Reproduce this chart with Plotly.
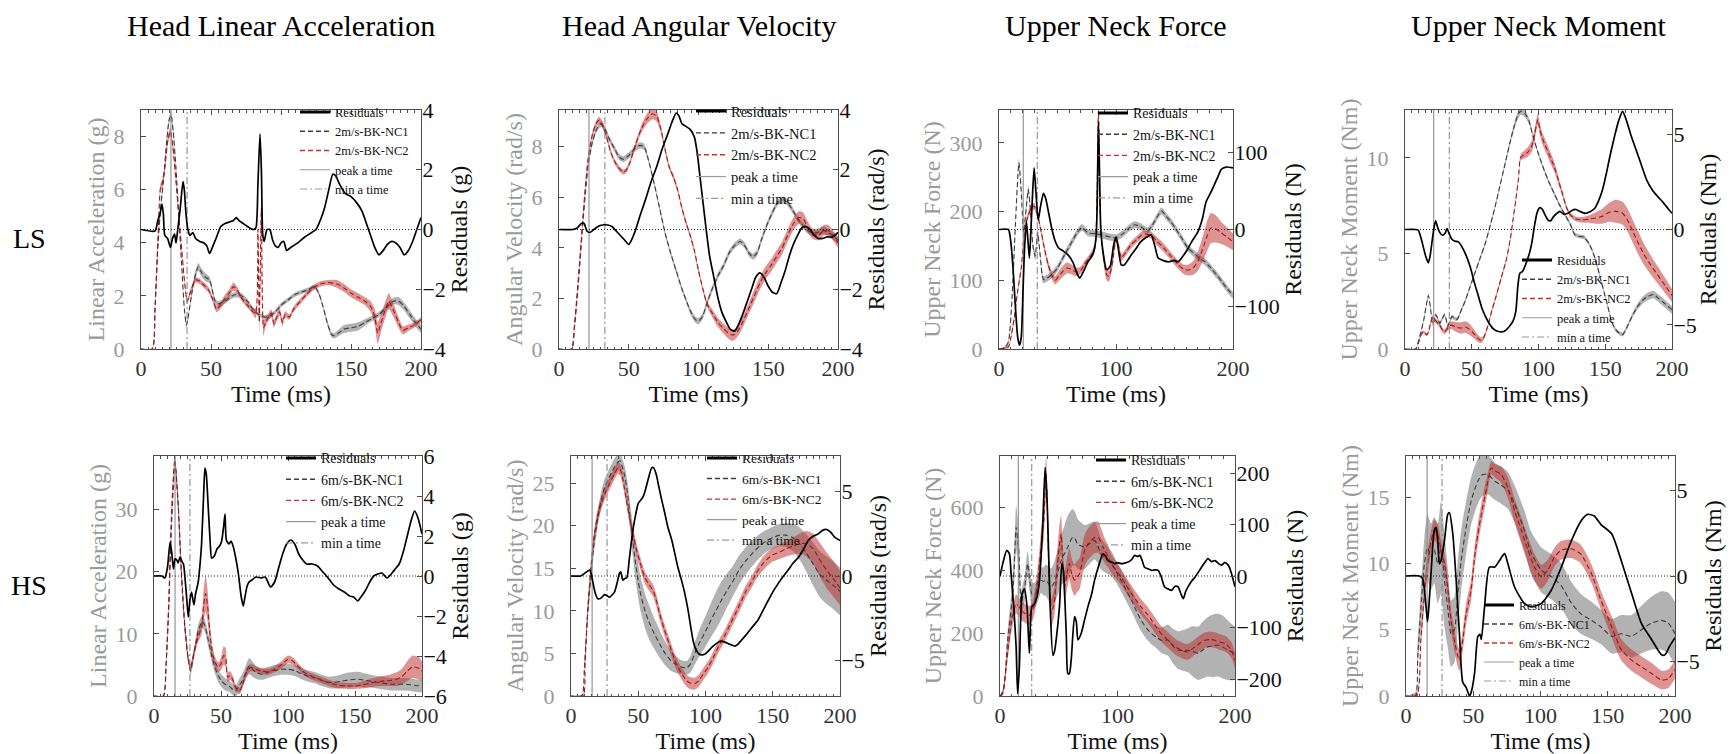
import plotly.graph_objects as go

W, H = 1736, 754
FONT = "Liberation Serif"

# ---------------- text ----------------
col_titles = ["Head Linear Acceleration", "Head Angular Velocity", "Upper Neck Force", "Upper Neck Moment"]
row_labels = ["LS", "HS"]
left_titles = ["Linear Acceleration (g)", "Angular Velocity (rad/s)", "Upper Neck Force (N)", "Upper Neck Moment (Nm)"]
right_titles = ["Residuals (g)", "Residuals (rad/s)", "Residuals (N)", "Residuals (Nm)"]
legend_ls = ["Residuals", "2m/s-BK-NC1", "2m/s-BK-NC2", "peak a time", "min a time"]
legend_hs = ["Residuals", "6m/s-BK-NC1", "6m/s-BK-NC2", "peak a time", "min a time"]
x_title = "Time (ms)"

# ---------------- per-panel scalars ----------------
peak_time = [21.4, 21.5, 20.7, 21.5, 15.7, 15.7, 15.6, 15.7]
min_time = [32.9, 32.9, 32.7, 33.2, 26.8, 26.8, 27.0, 26.8]
left_max = [9.0, 9.45, 348, 12.5, 38.6, 28.2, 765, 18.1]
right_lim = [4, 4, 155, 6.27, 6, 7.1, 233, 7]
left_ticks = [[0, 2, 4, 6, 8], [0, 2, 4, 6, 8], [0, 100, 200, 300], [0, 5, 10],
              [0, 10, 20, 30], [0, 5, 10, 15, 20, 25], [0, 200, 400, 600], [0, 5, 10, 15]]
right_ticks = [[-4, -2, 0, 2, 4], [-4, -2, 0, 2, 4], [-100, 0, 100], [-5, 0, 5],
               [-6, -4, -2, 0, 2, 4, 6], [-5, 0, 5], [-200, -100, 0, 100, 200], [-5, 0, 5]]
time_ticks = [[0, 50, 100, 150, 200], [0, 50, 100, 150, 200], [0, 100, 200], [0, 50, 100, 150, 200],
              [0, 50, 100, 150, 200], [0, 50, 100, 150, 200], [0, 100, 200], [0, 50, 100, 150, 200]]

# ---------------- series: (time ms, mean, sd) and residuals (time ms, value) ----------------
# Panel 1: LS head linear acceleration
p1_nc1 = [(0,0,0),(8,0,0.03),(10,1.5,0.1),(12,3.8,0.15),(14,5.3,0.15),(16,6.3,0.15),(18,7.6,0.15),(20,8.6,0.15),(21.5,8.8,0.15),(23,8.2,0.15),(25,6.8,0.15),(27,5.0,0.12),(29,3.2,0.1),(31,1.5,0.1),(32.5,0.9,0.1),(34,1.3,0.1),(36,2.0,0.12),(38,2.6,0.15),(40,3.0,0.15),(41,3.1,0.15),(43,2.9,0.15),(46,2.7,0.15),(49,2.6,0.12),(51,2.2,0.12),(53,1.8,0.1),(55,1.7,0.1),(60,1.8,0.1),(65,2.0,0.1),(68,2.05,0.1),(72,2.0,0.1),(76,1.8,0.08),(80,1.5,0.08),(84,1.3,0.08),(88,1.2,0.08),(92,1.25,0.08),(96,1.4,0.08),(100,1.65,0.08),(105,1.85,0.08),(110,2.05,0.08),(115,2.15,0.08),(120,2.25,0.08),(124,2.35,0.08),(127,2.1,0.08),(130,1.6,0.08),(133,1.0,0.1),(136,0.55,0.1),(138,0.5,0.1),(141,0.6,0.12),(145,0.75,0.15),(150,0.8,0.15),(155,0.85,0.15),(160,1.0,0.12),(165,1.15,0.1),(170,1.3,0.1),(175,1.55,0.1),(180,1.8,0.12),(184,1.8,0.15),(188,1.6,0.15),(192,1.3,0.15),(196,1.0,0.15),(200,0.75,0.15)]
p1_nc2 = [(0,0,0),(8,0,0.03),(10,1.5,0.1),(12,4.0,0.15),(14,6.1,0.15),(15,6.2,0.15),(17,6.8,0.15),(19,7.8,0.15),(21,8.2,0.15),(23,7.5,0.15),(25,6.3,0.12),(27,5.0,0.1),(29,3.8,0.1),(31,2.6,0.1),(33,1.8,0.1),(35,2.1,0.1),(37,2.4,0.1),(39,2.6,0.1),(42,2.55,0.1),(45,2.4,0.1),(48,2.25,0.1),(51,1.9,0.1),(54,1.5,0.12),(57,1.65,0.12),(60,1.9,0.15),(63,2.1,0.15),(66,2.35,0.15),(69,2.2,0.12),(72,1.9,0.1),(76,1.65,0.1),(80,1.4,0.1),(82,1.35,0.2),(83.5,4.5,0.6),(84.5,1.0,0.4),(86,5.3,0.6),(87.5,0.8,0.3),(89,1.0,0.15),(91,1.2,0.15),(93,1.35,0.15),(95,0.95,0.15),(97,1.2,0.15),(99,1.4,0.15),(101,1.0,0.15),(103,1.3,0.12),(106,1.2,0.1),(109,1.5,0.1),(113,1.75,0.1),(118,2.05,0.1),(123,2.3,0.1),(128,2.45,0.1),(134,2.5,0.1),(140,2.45,0.15),(145,2.3,0.15),(150,2.1,0.15),(155,1.95,0.15),(160,1.8,0.15),(164,1.6,0.2),(167,1.2,0.3),(169,0.6,0.4),(171,0.9,0.35),(174,1.4,0.3),(177,1.8,0.3),(180,1.5,0.25),(184,1.0,0.2),(187,0.7,0.15),(191,0.8,0.12),(195,0.9,0.1),(200,1.1,0.1)]
p1_res = [(0,0),(10,-0.05),(12,0.3),(13.5,0.5),(15,0.85),(16,0.5),(17,-0.2),(19,-0.3),(21,-0.6),(22.5,-0.3),(24,-0.15),(25,-0.45),(26,-0.1),(28,0.7),(30,1.6),(31,1.3),(32,0.6),(33.5,0.0),(35,-0.2),(37,-0.1),(39,-0.3),(42,-0.4),(45,-0.45),(47,-0.55),(49,-0.8),(51,-0.6),(54,-0.25),(57,0.1),(60,0.2),(63,0.25),(66,0.3),(68,0.4),(70,0.3),(73,0.2),(76,0.1),(80,0.0),(82,0.05),(83.5,1.5),(85,3.2),(86,2.0),(87,-0.2),(88,-0.4),(90,0.0),(92,0.0),(94,-0.35),(96,-0.55),(98,-0.6),(100,-0.45),(102,-0.4),(104,-0.7),(107,-0.6),(112,-0.45),(117,-0.25),(122,-0.1),(125,0.0),(128,0.3),(131,0.7),(134,1.3),(137,1.85),(139,1.8),(142,1.5),(146,1.2),(150,1.1),(154,0.9),(158,0.6),(161,0.2),(164,-0.2),(167,-0.6),(170,-0.85),(173,-0.7),(176,-0.5),(179,-0.4),(182,-0.45),(185,-0.6),(188,-0.85),(191,-0.7),(194,-0.4),(197,0.0),(200,0.4)]

# Panel 2: LS head angular velocity
p2_nc1 = [(0,0,0),(9,0,0.03),(11,0.8,0.08),(13,2.0,0.1),(15,3.4,0.1),(17,4.9,0.1),(19,6.2,0.1),(21,7.3,0.1),(24,8.2,0.12),(27,8.7,0.12),(30,8.9,0.12),(33,8.7,0.12),(36,8.3,0.12),(40,7.9,0.12),(43,7.6,0.12),(46,7.5,0.12),(50,7.65,0.12),(54,7.9,0.12),(58,8.05,0.12),(61,8.0,0.12),(64,7.5,0.1),(68,6.6,0.1),(72,5.6,0.1),(76,4.6,0.1),(80,3.8,0.1),(84,3.1,0.1),(88,2.4,0.1),(92,1.8,0.1),(95,1.4,0.12),(98,1.15,0.12),(100,1.1,0.12),(103,1.3,0.12),(106,1.8,0.12),(110,2.4,0.12),(114,2.9,0.12),(118,3.3,0.12),(122,3.8,0.12),(126,4.1,0.12),(130,4.25,0.12),(133,4.1,0.12),(136,3.8,0.12),(139,3.65,0.12),(142,3.8,0.12),(145,4.3,0.12),(149,4.9,0.12),(153,5.4,0.12),(157,5.8,0.12),(161,5.9,0.12),(165,5.7,0.12),(169,5.35,0.12),(173,5.0,0.12),(177,4.75,0.12),(181,4.6,0.12),(185,4.6,0.15),(189,4.7,0.15),(193,4.6,0.15),(197,4.45,0.15),(200,4.3,0.15)]
p2_nc2 = [(0,0,0),(9,0,0.03),(11,0.9,0.08),(13,2.2,0.1),(15,3.6,0.1),(17,5.1,0.1),(19,6.5,0.1),(21,7.6,0.1),(24,8.5,0.12),(27,8.95,0.12),(29,9.05,0.12),(31,8.9,0.12),(34,8.4,0.1),(37,7.8,0.1),(40,7.4,0.1),(43,7.15,0.1),(46,7.0,0.1),(48,7.05,0.1),(51,7.4,0.1),(55,8.1,0.12),(59,8.7,0.15),(63,9.1,0.2),(67,9.3,0.22),(70,9.2,0.2),(73,8.7,0.15),(76,7.9,0.12),(79,7.2,0.1),(82,6.8,0.1),(85,6.3,0.1),(88,5.6,0.1),(91,5.0,0.1),(94,4.5,0.1),(97,3.9,0.1),(100,3.1,0.1),(103,2.4,0.1),(106,1.8,0.12),(110,1.4,0.15),(114,1.05,0.18),(118,0.8,0.2),(122,0.6,0.22),(125,0.55,0.22),(128,0.7,0.22),(132,1.1,0.22),(136,1.6,0.22),(140,2.1,0.25),(144,2.6,0.25),(148,3.0,0.25),(152,3.3,0.25),(156,3.65,0.25),(160,4.0,0.25),(164,4.5,0.25),(168,4.95,0.25),(172,5.2,0.25),(175,5.15,0.25),(178,4.85,0.22),(182,4.55,0.2),(186,4.5,0.2),(190,4.7,0.2),(193,4.7,0.2),(197,4.45,0.2),(200,4.2,0.2)]
p2_res = [(0,0),(10,0),(13,0.05),(16,0.2),(18,0.2),(20,-0.05),(22,-0.1),(25,0.0),(28,0.1),(31,0.15),(35,0.15),(38,0.1),(41,-0.05),(44,-0.2),(47,-0.35),(50,-0.5),(52,-0.35),(55,0.0),(58,0.45),(62,1.0),(66,1.6),(70,2.1),(74,2.7),(78,3.2),(81,3.6),(84,3.9),(86,3.8),(88,3.55),(91,3.45),(94,3.35),(97,3.1),(99,2.6),(101,1.8),(103,1.0),(105.5,0.0),(108,-0.9),(111,-1.6),(114,-2.3),(117,-2.8),(120,-3.1),(123,-3.35),(126,-3.4),(129,-3.15),(132,-2.8),(135,-2.4),(138,-2.0),(141,-1.6),(144,-1.45),(147,-1.6),(150,-1.9),(153,-2.1),(156,-2.15),(159,-1.8),(162,-1.4),(165,-0.9),(168,-0.5),(171,-0.2),(174,0.05),(177,0.1),(180,0.0),(183,-0.2),(186,-0.3),(189,-0.3),(192,-0.25),(196,-0.25),(200,-0.1)]

# Panel 3: LS upper neck force
p3_nc1 = [(0,0,0),(5,2,2),(8,10,3),(11,70,5),(14,180,6),(17,271,6),(19,230,6),(21,170,6),(23,200,6),(25,232,6),(27,200,6),(29,150,6),(31,135,6),(33,170,6),(35,140,6),(38,101,5),(41,103,5),(45,108,5),(50,118,5),(56,137,5),(62,155,5),(67,170,5),(71,177,5),(76,169,5),(82,168,5),(88,166,5),(95,163,5),(100,162,5),(106,168,5),(111,176,5),(116,181,5),(121,178,5),(127,172,5),(131,180,5),(135,192,5),(139,201,5),(143,193,5),(147,185,5),(151,175,5),(156,162,5),(161,148,5),(166,140,5),(171,133,5),(176,127,5),(181,118,5),(186,108,5),(190,99,5),(195,88,5),(200,78,5)]
p3_nc2 = [(0,0,0),(8,3,2),(10,15,3),(13,45,4),(16,85,4),(19,118,5),(22,175,5),(25,195,5),(28,206,5),(30,208,5),(33,195,5),(36,171,5),(39,145,5),(42,123,5),(45,108,6),(48,100,6),(51,106,7),(54,112,8),(58,118,8),(62,116,7),(66,112,6),(70,115,5),(73,123,5),(77,132,5),(80,140,5),(82,147,6),(83.5,200,10),(85,348,10),(86.5,200,10),(88,150,8),(90,125,8),(92,108,8),(94,106,8),(97,125,6),(100,160,5),(102,152,5),(104.5,133,5),(108,140,5),(113,152,5),(118,160,5),(122,166,5),(126,167,5),(130,166,5),(135,157,6),(141,147,6),(147,135,6),(153,123,6),(158,116,7),(162,115,8),(166,118,10),(170,128,14),(174,145,18),(178,165,22),(181,176,22),(185,175,20),(190,169,16),(195,163,14),(200,156,12)]
p3_res = [(0,0),(8,0),(10,-15),(12,-50),(14,-100),(16,-140),(17.5,-150),(19,-140),(20.5,-80),(22,-20),(23.5,10),(25,-20),(26,-37),(27,-10),(28.5,40),(30,80),(31.5,50),(33.5,12),(35.5,30),(38,47),(40,40),(42,25),(45,2),(48,-15),(51,-24),(55,-28),(59,-33),(63,-42),(67,-58),(69,-63),(72,-55),(76,-42),(80,-33),(83,-10),(85,140),(87,0),(89,-30),(92,-52),(95,-48),(98,-20),(100,-10),(102,-25),(104.5,-46),(107,-46),(110,-40),(113,-33),(117,-25),(121,-16),(126,-10),(130,-7),(133,-20),(136,-37),(140,-40),(145,-42),(150,-40),(153,-42),(157,-35),(161,-26),(165,-15),(170,-3),(174,15),(177,36),(181,48),(184,58),(187,68),(190,78),(194,81),(200,80)]

# Panel 4: LS upper neck moment
p4_nc1 = [(0,0,0),(8,0,0.02),(10,0.4,0.05),(12,0.9,0.08),(14,1.5,0.1),(16,2.3,0.1),(17.5,2.8,0.1),(19,2.2,0.1),(20.7,1.3,0.1),(22,1.5,0.1),(23,1.8,0.1),(24.5,1.6,0.1),(26,1.35,0.1),(28,1.6,0.1),(29.5,1.8,0.1),(31,1.5,0.1),(32,1.2,0.1),(34,1.5,0.1),(35,1.7,0.1),(37,1.6,0.1),(39,1.55,0.1),(42,2.0,0.1),(45,2.5,0.1),(48,3.1,0.1),(52,3.9,0.1),(56,4.7,0.1),(60,5.5,0.1),(64,6.5,0.1),(67,7.3,0.1),(71,8.5,0.1),(75,9.7,0.12),(79,10.9,0.15),(82,11.7,0.18),(85,12.3,0.2),(87,12.45,0.2),(90,12.3,0.2),(93,11.9,0.15),(96,11.1,0.12),(100,10.2,0.1),(104,9.4,0.1),(108,8.7,0.1),(112,8.1,0.1),(116,7.5,0.1),(120,7.0,0.1),(124,6.5,0.1),(127,6.0,0.1),(130,5.9,0.1),(134,5.85,0.1),(137,5.6,0.1),(140,5.2,0.1),(143,4.6,0.1),(146,3.8,0.1),(149,3.0,0.1),(152,2.2,0.1),(155,1.4,0.1),(158,1.0,0.1),(161,0.8,0.1),(163,0.75,0.1),(166,1.1,0.1),(170,1.7,0.12),(174,2.2,0.15),(178,2.55,0.18),(182,2.75,0.2),(186,2.85,0.2),(190,2.65,0.2),(195,2.35,0.2),(200,2.05,0.2)]
p4_nc2 = [(0,0,0),(8,0,0.02),(10,0.3,0.05),(12,0.75,0.08),(14,0.9,0.08),(16,0.75,0.08),(17.5,0.85,0.1),(19,1.3,0.1),(20.7,1.65,0.12),(22,1.55,0.12),(24,1.4,0.12),(26,1.25,0.12),(28,1.0,0.12),(29.5,0.9,0.12),(31,1.0,0.15),(33,1.2,0.18),(35,1.25,0.2),(38,1.15,0.25),(42,1.1,0.3),(45,1.15,0.3),(48,1.05,0.3),(51,0.85,0.25),(54,0.6,0.2),(57,0.45,0.15),(59,0.6,0.12),(62,1.2,0.1),(65,2.0,0.1),(68,2.7,0.1),(72,3.7,0.1),(76,4.7,0.1),(79,5.8,0.1),(81,6.8,0.1),(83,7.8,0.1),(85,8.9,0.12),(86.5,10.0,0.15),(89,10.15,0.2),(92,10.3,0.25),(95,10.6,0.3),(97,11.2,0.3),(99.5,12.0,0.3),(101,11.5,0.3),(103,11.0,0.3),(106,10.5,0.3),(109,10.0,0.3),(112,9.5,0.25),(115,8.8,0.2),(118,8.1,0.15),(121,7.4,0.12),(124,7.0,0.12),(128,6.8,0.12),(133,6.75,0.15),(138,6.8,0.2),(143,6.85,0.3),(148,6.95,0.4),(153,7.15,0.5),(158,7.2,0.6),(163,7.1,0.6),(167,6.7,0.6),(171,6.1,0.6),(175,5.5,0.6),(179,4.95,0.55),(184,4.4,0.5),(189,3.9,0.45),(195,3.3,0.4),(200,2.8,0.35)]
p4_res = [(0,0),(8,0),(10,-0.05),(12,-0.45),(14,-1.0),(15.5,-1.4),(17.5,-1.75),(19,-1.3),(20.5,-0.5),(22,0.2),(23,0.45),(24.5,0.1),(26,-0.15),(28,-0.3),(30,-0.2),(31.5,0.05),(33,-0.2),(35,-0.5),(37,-0.6),(40,-0.65),(43,-0.95),(46,-1.4),(49,-2.0),(52,-2.8),(55,-3.5),(58,-4.2),(62,-4.8),(66,-5.2),(70,-5.35),(74,-5.35),(78,-5.1),(81,-4.8),(83,-4.3),(84.5,-3.0),(86,-2.3),(88,-2.2),(90,-1.9),(93,-1.3),(95,-0.7),(97,0.2),(99,0.9),(101,1.15),(103,1.05),(105,0.75),(107,0.5),(109,0.45),(111,0.65),(113,0.8),(116,0.95),(119,0.8),(122,0.85),(125,1.0),(128,1.05),(131,0.95),(135,0.85),(139,0.95),(142,1.1),(145,1.5),(148,2.1),(151,3.0),(154,4.0),(157,4.9),(160,5.7),(163,6.2),(166,5.7),(169,5.0),(173,4.2),(177,3.4),(181,2.6),(185,2.1),(189,1.75),(193,1.45),(197,1.1),(200,0.85)]

# Panel 5: HS head linear acceleration
p5_nc1 = [(0,0,0),(7,0,0.1),(9,5,0.5),(11,14,0.6),(13,27,0.6),(15.7,37.5,0.6),(18,31,0.6),(20.5,20,0.6),(23,11.5,0.6),(25.5,6,0.6),(27.3,4.0,0.6),(30,7.0,0.8),(33,10.5,1.0),(36,12.0,1.0),(38,11.3,1.0),(40.5,9.0,1.0),(43,6.5,1.0),(45.5,4.6,1.0),(48,3.2,1.0),(50.5,2.4,1.0),(53,1.9,1.0),(56,1.6,0.9),(59,1.0,0.9),(61,0.8,0.9),(63,1.5,1.0),(66,2.5,1.1),(69,4.0,1.2),(71,4.8,1.3),(74,4.2,1.2),(77,3.7,1.0),(81,3.5,0.9),(85,3.8,0.9),(90,4.1,0.9),(95,4.3,0.9),(100,4.3,0.9),(105,4.1,0.9),(110,3.6,0.9),(115,3.2,0.9),(120,2.95,0.9),(125,2.5,0.9),(130,2.2,0.9),(135,2.2,1.0),(140,2.4,1.1),(146,2.6,1.2),(152,2.7,1.2),(158,2.5,1.1),(164,2.3,1.0),(170,2.1,1.0),(177,1.9,1.0),(184,1.9,1.0),(190,1.85,1.0),(195,1.7,1.0),(200,1.6,1.0)]
p5_nc2 = [(0,0,0),(7,0,0.1),(9,5,0.5),(11,15,0.7),(13,29,0.8),(15.5,38,0.8),(18,31,0.8),(20.5,19,0.6),(23,11,0.5),(25.5,6.0,0.5),(27.3,4.6,0.5),(30,7.2,0.6),(33,9.5,0.8),(35.5,11,1.2),(37,14.5,2.5),(38.5,16.5,3.0),(40,14.5,2.5),(42,9.5,1.5),(44,6.5,1.0),(46,5.3,0.8),(48,4.6,0.8),(50,5.2,1.0),(52,6.5,1.5),(53.5,6.2,1.5),(55,3.0,0.8),(57,3.3,0.7),(59,2.5,0.6),(61,1.3,0.5),(64,0.8,0.5),(66,1.8,0.5),(69,3.8,0.6),(72,4.6,0.6),(76,4.3,0.5),(80,4.0,0.5),(85,3.9,0.5),(90,4.3,0.5),(95,5.0,0.6),(100,5.9,0.6),(103,5.7,0.6),(107,4.9,0.5),(112,3.8,0.5),(117,3.2,0.5),(122,2.8,0.5),(127,2.4,0.5),(132,2.0,0.5),(138,1.7,0.5),(145,1.6,0.5),(152,1.65,0.5),(158,1.9,0.6),(164,2.2,0.7),(170,2.4,0.8),(176,2.5,0.9),(181,2.7,1.1),(185,3.1,1.3),(189,4.0,1.6),(193,4.7,1.8),(197,4.5,1.8),(200,4.0,1.6)]
p5_res = [(0,0),(6,0),(8,-0.1),(10,0.4),(12,1.7),(13.2,1.2),(14.5,0.35),(15.7,0.85),(17,0.8),(18,0.65),(19.4,0.95),(21,0.7),(22,0.6),(23,0.0),(24.5,-1.2),(25.6,-2.05),(26.8,-1.2),(28,-0.8),(29.8,-1.45),(31,-0.9),(33,-0.3),(34.5,0.7),(35.5,1.6),(37,4.0),(38,5.4),(39,5.1),(40.5,3.4),(42,1.6),(43,0.9),(45,1.0),(47,1.35),(49,1.5),(50.5,1.75),(52,2.5),(53,3.1),(54,1.8),(56,1.6),(57.5,1.75),(59,1.5),(61,0.9),(63,0.1),(65,-1.0),(66.6,-1.5),(68,-1.0),(69.5,-0.5),(71,-0.3),(73,-0.2),(76,-0.05),(80,-0.1),(83,-0.05),(87,-0.55),(90,-0.3),(93,0.4),(96,1.1),(99,1.6),(102,1.8),(105,1.6),(108,1.1),(111,0.8),(114,0.6),(118,0.6),(122,0.5),(126,0.2),(130,-0.1),(134,-0.45),(138,-0.65),(142,-0.8),(146,-1.0),(149,-1.05),(152,-1.25),(155,-1.0),(158,-0.7),(161,-0.3),(164,0.0),(167,0.1),(170,0.15),(174,-0.1),(177,0.1),(180,0.35),(183,0.6),(186,1.2),(189,2.0),(192,2.8),(194.5,3.25),(197,2.9),(200,2.1)]

# Panel 6: HS head angular velocity
p6_nc1 = [(0,0,0),(8,0,0.2),(10,3.5,0.5),(12.4,9.7,0.8),(15,14.5,1.0),(17.4,18.3,1.0),(20,21.0,1.0),(22.4,23.0,1.0),(25,24.5,1.0),(27.3,25.3,1.0),(30,26.2,1.0),(32.3,26.9,1.0),(35,27.5,1.0),(36.5,27.6,1.0),(38,27.0,1.0),(40,25.8,1.2),(42,23.8,1.4),(44,21.0,1.6),(46,18.2,1.8),(48,15.6,2.0),(50,13.5,2.0),(52,11.8,2.0),(55,10.0,2.0),(58,8.7,2.0),(62,7.3,1.8),(66,6.1,1.6),(70,5.0,1.4),(74,4.2,1.2),(78,3.7,1.0),(82,3.4,0.8),(86,3.3,0.8),(89,3.8,1.0),(92,5.0,1.3),(96,6.4,1.6),(100,7.6,1.8),(104,8.9,2.0),(108,10.1,2.2),(112,11.3,2.2),(116,12.4,2.0),(120,13.4,1.8),(125,14.8,1.7),(130,15.9,1.6),(135,16.8,1.5),(140,17.6,1.4),(145,18.2,1.3),(150,18.6,1.3),(155,18.9,1.3),(160,18.9,1.4),(165,18.6,1.6),(170,17.9,1.9),(175,16.8,2.2),(180,15.5,2.5),(185,14.3,2.7),(190,13.6,2.8),(195,13.0,2.8),(200,12.3,2.8)]
p6_nc2 = [(0,0,0),(9,0,0.2),(10.5,4.0,0.5),(12.4,10.0,0.7),(15,15.5,0.7),(17.4,19.0,0.7),(20,21.3,0.7),(22.4,22.6,0.7),(25,23.7,0.7),(27.3,24.5,0.7),(30,25.4,0.7),(32.3,26.1,0.7),(34.8,26.8,0.7),(36.5,26.6,0.7),(38.5,25.5,0.7),(41,23.2,0.7),(43.5,21.0,0.7),(45.5,19.4,0.7),(47.2,18.3,0.7),(49,17.0,0.7),(51,15.9,0.7),(53,14.8,0.7),(55,13.9,0.7),(58,13.1,0.7),(61,12.4,0.7),(63.5,11.2,0.7),(66,9.6,0.7),(69,8.0,0.7),(72,6.6,0.7),(75,5.2,0.7),(78,3.9,0.7),(82,2.7,0.7),(86,1.8,0.7),(89,1.5,0.7),(92,1.45,0.7),(95,1.8,0.7),(98,2.5,0.7),(102,3.4,0.7),(106,4.6,0.7),(110,5.9,0.7),(114,7.0,0.7),(118,8.3,0.7),(122,9.6,0.7),(126,10.9,0.7),(130,12.3,0.7),(134,13.3,0.7),(138,14.5,0.7),(142,15.4,0.8),(146,16.1,0.8),(150,16.6,0.8),(155,16.9,0.8),(160,17.3,0.9),(165,17.6,1.0),(170,17.9,1.2),(175,17.9,1.5),(180,17.3,1.8),(185,16.0,2.0),(190,14.8,2.1),(195,13.8,2.1),(200,12.7,2.0)]
p6_res = [(0,0),(7,0),(10,0.15),(13.7,0.35),(15,0.15),(16.1,-0.3),(18,-1.0),(20,-1.35),(22.4,-1.3),(25,-1.1),(28.6,-1.25),(32.3,-0.95),(34,-0.5),(36,0.15),(37,0.25),(38.5,-0.25),(40,-0.15),(41.5,-0.1),(43.5,1.1),(46,2.7),(48,3.6),(50,4.3),(53.4,4.65),(55,5.0),(57,5.6),(60,6.4),(61.5,6.4),(63.4,6.0),(65,5.4),(67,4.65),(69.5,3.8),(72,2.9),(75,2.1),(79.5,0.5),(82,-0.2),(84.5,-1.0),(87,-2.0),(89.4,-3.2),(91,-3.9),(93.2,-4.4),(95,-4.6),(97,-4.67),(100,-4.6),(102,-4.45),(105,-4.2),(108,-4.0),(111,-3.85),(114,-3.9),(117,-4.0),(120,-4.1),(122,-4.15),(124,-4.05),(126.7,-3.8),(130,-3.5),(134,-3.1),(139,-2.6),(143,-2.0),(146.6,-1.45),(150,-0.95),(154,-0.45),(158,0.0),(161.5,0.35),(165,0.75),(169,1.1),(173,1.6),(176.4,2.1),(180,2.35),(184,2.5),(187,2.7),(190,2.75),(193,2.6),(196,2.3),(200,2.1)]

# Panel 7: HS upper neck force
p7_nc1 = [(0,0,0),(3,20,10),(6.5,178,30),(9,260,40),(10.8,326,50),(12.5,450,60),(13.7,538,70),(15,500,70),(16,464,70),(17,360,60),(18,284,50),(19.5,320,40),(20.8,337,40),(22,380,40),(23.6,422,40),(25,380,40),(27,326,40),(29,320,40),(30.7,326,40),(33,350,40),(35,369,40),(37,365,45),(39,369,50),(41,360,55),(43.5,347,60),(46,360,65),(47.8,379,70),(50,405,75),(52,432,80),(55,455,90),(57.7,475,100),(60,495,95),(62,506,90),(64,500,85),(66,485,80),(69,478,75),(72,475,70),(76,485,65),(80.5,496,60),(83,480,55),(86,453,50),(90,438,45),(94.7,422,40),(99,396,35),(103,369,35),(107,340,35),(112,305,35),(116,272,35),(120,242,35),(125,215,35),(129,199,35),(133,188,35),(137,178,40),(140,178,45),(143,178,50),(147,160,55),(151.6,146,60),(156,145,65),(160,146,70),(164,142,80),(168.7,136,85),(172,145,90),(177,157,95),(181,160,100),(185.8,162,100),(190,155,100),(194,146,95),(197,140,90),(200,136,85)]
p7_nc2 = [(0,0,0),(2,5,5),(3.7,40,10),(6.5,136,20),(10,242,30),(13.7,294,30),(16,285,30),(18,273,30),(21.3,263,30),(25,257,30),(27,265,30),(29.3,294,35),(31.5,350,40),(33.6,422,45),(35.5,500,50),(37.3,559,55),(38.3,650,60),(39.3,708,60),(40.3,600,60),(41.3,443,55),(42.5,330,50),(43.5,263,45),(45,280,45),(46.4,305,45),(48,380,50),(49,422,55),(50.5,480,60),(52,517,60),(53.5,420,55),(55,347,50),(57,390,50),(59,422,50),(61,390,50),(63.4,369,50),(65.5,380,50),(67.7,390,50),(70,430,50),(72,464,50),(75,485,50),(77.7,496,50),(80.5,505,50),(83.4,506,50),(86,490,45),(89,464,40),(92,445,35),(94.7,422,30),(99,400,28),(103,379,25),(107,355,25),(112,326,25),(116,305,25),(120,284,25),(125,262,25),(129,242,25),(133,220,25),(137,199,25),(141,185,25),(146,167,25),(150,155,25),(154.5,146,25),(157,142,25),(160,141,25),(163,148,25),(166,157,25),(170,168,25),(174.4,178,25),(179,180,25),(183,178,25),(187,172,25),(191.5,167,25),(194,160,25),(197,146,25),(200,114,25)]
p7_res = [(0,0),(3,30),(5.7,50),(8,43),(9.4,5),(11.7,-60),(13.7,-137),(15,-228),(16.5,-176),(18.8,-34),(20.8,-25),(23,-60),(25,-150),(27,-60),(29.3,-54),(31.5,-40),(33.6,-8),(35,40),(36.4,101),(38.4,211),(40,150),(40.7,101),(42.7,-60),(45,-154),(46.5,-145),(47.8,-124),(50.6,-60),(52.6,24),(54,10),(55,-34),(56.5,-120),(57.7,-189),(59,-190),(60.6,-163),(63.4,-79),(65,-90),(66.3,-124),(69,-112),(72,-85),(74.8,-60),(78,-35),(80.5,-8),(84,20),(87.6,43),(90,38),(92,30),(95,27),(97.6,24),(100,26),(103,24),(106,25),(109,27),(112,32),(114.7,40),(117,38),(119,40),(121,30),(123,17),(126,14),(129,11),(132,12),(134.6,11),(137,0),(140,-21),(143,-25),(146,-28),(149,-20),(151.6,-21),(154,-35),(156,-44),(158,-30),(160,-21),(163,-10),(166,-2),(169,8),(171.5,17),(174,25),(177,34),(180,28),(183,30),(186,24),(188.6,21),(191,26),(193,24),(195,18),(197,5),(200,-21)]

# Panel 8: HS upper neck moment
p8_nc1 = [(0,0,0),(7,0,0.3),(8.7,3.0,1.0),(11,6.5,1.5),(13.7,10,2.0),(16,11.2,2.5),(18.6,10.5,2.5),(21,11,2.5),(23.6,10,3.0),(26,11.2,3.5),(28.6,8.7,3.5),(31,6.7,3.0),(33.5,4.7,2.5),(36,5.0,2.5),(38.5,7.7,2.5),(41,10.2,2.3),(44.7,12.7,2.0),(48.4,14.7,1.8),(53.4,16.2,1.7),(57,16.7,1.6),(61,16.7,1.5),(66,16.2,1.4),(70.8,15.9,1.4),(75.8,15.5,1.4),(80.7,14.5,1.4),(88,12.5,1.5),(93,10.8,1.6),(100.6,9.5,1.7),(108,9.0,1.7),(115.5,8.3,1.7),(123,7.0,1.6),(130,6.2,1.5),(138,5.7,1.4),(145,5.2,1.3),(153,4.5,1.3),(160,4.7,1.4),(167.7,4.5,1.6),(175,5.0,1.8),(182.6,5.5,2.0),(190,5.7,2.2),(195,5.5,2.3),(200,4.7,2.4)]
p8_nc2 = [(0,0,0),(8,0,0.2),(11,4.2,0.6),(13.7,7.7,0.8),(17.4,11,0.8),(21,12.5,0.8),(23.6,12.2,0.8),(26,11,0.8),(28.6,10,0.8),(31,8.2,0.8),(33.5,5.7,0.8),(36,4.2,0.8),(38.5,3.0,0.8),(39.7,2.7,0.8),(42.2,4.2,0.8),(44.7,6.2,0.8),(48.4,8.0,0.8),(51,10.5,0.8),(53.4,12.2,0.8),(56,13.7,0.8),(59.6,15.5,0.8),(63.4,17.2,0.5),(66,17.0,0.5),(70.8,16.7,0.6),(75.8,15.7,0.8),(80.7,14.0,0.9),(85.7,12.5,1.0),(90.7,11.0,1.0),(95.6,9.7,1.0),(100.6,9.0,0.9),(105.5,9.5,0.8),(110.5,10.5,0.7),(115.5,11.0,0.7),(123,11.1,0.7),(130,10.7,0.7),(138,9.2,0.7),(145,7.2,0.7),(153,5.2,0.8),(160,3.5,0.8),(167.7,2.7,0.8),(175,2.2,0.8),(182.6,1.7,0.8),(190,1.2,0.7),(195,1.3,0.7),(200,2.0,0.7)]
p8_res = [(0,0),(10,0),(12.4,-0.15),(14.9,-1.8),(16,-2.66),(17,-1.8),(18.6,0.14),(21,2.64),(22.4,2.84),(23.6,2.07),(24.8,0.71),(26,0.9),(28.6,2.07),(31,3.6),(32.3,3.7),(34.8,2.45),(37.3,-0.25),(39.7,-3.34),(42.2,-6.2),(44.7,-6.5),(47.2,-7.0),(48.4,-6.8),(51,-5.66),(53.4,-3.53),(55,-3.4),(56,-3.7),(58.4,-1.8),(62,0.52),(66,0.52),(69.5,0.9),(73.3,1.3),(75.8,0.7),(80.7,-0.64),(88,-1.6),(93,-1.8),(100.6,-1.6),(108,-0.83),(115.5,0.52),(123,2.07),(130,3.2),(135,3.6),(140,3.5),(145,3.0),(153,2.45),(160,0.9),(167.7,-1.0),(175,-2.76),(182.6,-3.7),(190,-4.6),(192.5,-4.6),(196,-4.1),(200,-3.6)]

panels = [(p1_nc1, p1_nc2, p1_res), (p2_nc1, p2_nc2, p2_res), (p3_nc1, p3_nc2, p3_res), (p4_nc1, p4_nc2, p4_res),
          (p5_nc1, p5_nc2, p5_res), (p6_nc1, p6_nc2, p6_res), (p7_nc1, p7_nc2, p7_res), (p8_nc1, p8_nc2, p8_res)]

# ---------------- layout geometry (px) ----------------
boxes = [(133, 413, 102, 341), (551, 830, 102, 341), (991, 1225, 102, 341), (1397, 1664, 102, 341),
         (146, 414, 448, 688), (563, 832, 448, 688), (992, 1227, 448, 688), (1398, 1667, 448, 688)]
# legend: (line-start x px, first-row centre y px, font size)
legend_pos = [(302, 104, 12.5), (698, 103, 14.5), (1100, 105, 14), (1524, 252, 12.5),
              (288, 450, 14), (709, 450, 13.5), (1098, 452, 14), (1486, 597, 12)]

GRAY_BAND = "rgba(115,115,115,0.55)"
RED_BAND = "rgba(190,40,40,0.5)"
NC1_COL = "#3c3c3c"
NC2_COL = "#a51515"
VLINE_COL = "#8c8c8c"
AXIS_COL = "#4d4d4d"
LEFT_COL = "#9a9a9a"

fig = go.Figure()
layout = dict(width=W, height=H, margin=dict(l=0, r=0, t=0, b=0, autoexpand=False), template="none",
              paper_bgcolor="white", plot_bgcolor="white",
              font=dict(family=FONT, color="#111"), showlegend=True, annotations=[])

SPL = dict(shape="spline", smoothing=0.6)

for i, (nc1, nc2, res) in enumerate(panels):
    xr = "x" if i == 0 else f"x{i+1}"
    yl = "y" if i == 0 else f"y{2*i+1}"
    yr = f"y{2*i+2}"
    lg = "legend" if i == 0 else f"legend{i+1}"
    names = legend_ls if i < 4 else legend_hs

    for s, col in ((nc1, GRAY_BAND), (nc2, RED_BAND)):
        t = [q[0] for q in s]
        lo = [q[1] - q[2] for q in s]
        hi = [q[1] + q[2] for q in s]
        fig.add_trace(go.Scatter(x=t, y=lo, xaxis=xr, yaxis=yl, mode="lines", line=dict(width=0, **SPL),
                                 hoverinfo="skip", showlegend=False))
        fig.add_trace(go.Scatter(x=t, y=hi, xaxis=xr, yaxis=yl, mode="lines", line=dict(width=0, **SPL),
                                 fill="tonexty", fillcolor=col, hoverinfo="skip", showlegend=False))
    for s, col in ((nc1, NC1_COL), (nc2, NC2_COL)):
        fig.add_trace(go.Scatter(x=[q[0] for q in s], y=[q[1] for q in s], xaxis=xr, yaxis=yl, mode="lines",
                                 line=dict(color=col, width=1.1, dash="5px,3px", **SPL), showlegend=False))
    fig.add_trace(go.Scatter(x=[peak_time[i], peak_time[i]], y=[0, left_max[i]], xaxis=xr, yaxis=yl, mode="lines",
                             line=dict(color=VLINE_COL, width=1.1), showlegend=False))
    fig.add_trace(go.Scatter(x=[min_time[i], min_time[i]], y=[0, left_max[i]], xaxis=xr, yaxis=yl, mode="lines",
                             line=dict(color=VLINE_COL, width=1.1, dash="7px,3px,2px,3px"), showlegend=False))
    fig.add_trace(go.Scatter(x=[0, 200], y=[0, 0], xaxis=xr, yaxis=yr, mode="lines",
                             line=dict(color="#222", width=1, dash="1px,2px"), showlegend=False))
    fig.add_trace(go.Scatter(x=[q[0] for q in res], y=[q[1] for q in res], xaxis=xr, yaxis=yr, mode="lines",
                             line=dict(color="black", width=1.7, **SPL), showlegend=False))
    leg_styles = [dict(color="black", width=3), dict(color="#3c3c3c", width=1.4, dash="5px,3px"),
                  dict(color="#c83232", width=1.4, dash="5px,3px"), dict(color="#9a9a9a", width=1.2),
                  dict(color="#9a9a9a", width=1.2, dash="7px,3px,2px,3px")]
    for nm, st in zip(names, leg_styles):
        fig.add_trace(go.Scatter(x=[None], y=[None], xaxis=xr, yaxis=yr, mode="lines", name=nm,
                                 line=st, legend=lg, showlegend=True))

    x0, x1, y0, y1 = boxes[i]
    xd = [x0 / W, x1 / W]
    yd = [1 - y1 / H, 1 - y0 / H]
    xname = "xaxis" if i == 0 else f"xaxis{i+1}"
    ylname = "yaxis" if i == 0 else f"yaxis{2*i+1}"
    yrname = f"yaxis{2*i+2}"
    minor_step = 10 if time_ticks[i][1] == 100 else 5
    layout[xname] = dict(domain=xd, anchor=yl, range=[0, 200], tickvals=time_ticks[i], ticks="inside", ticklen=5,
                         tickcolor=AXIS_COL, showline=True, linecolor=AXIS_COL, linewidth=1, mirror="ticks",
                         showgrid=False, zeroline=False, automargin=False, ticklabelstandoff=0,
                         minor=dict(ticks="inside", ticklen=2.5, tickcolor=AXIS_COL, dtick=minor_step, showgrid=False),
                         tickfont=dict(size=22, color="#333", family=FONT),
                         title=dict(text=x_title, font=dict(size=24, color="#111", family=FONT), standoff=1))
    layout[ylname] = dict(domain=yd, anchor=xr, range=[0, left_max[i]], tickvals=left_ticks[i], ticks="inside",
                          ticklen=5, tickcolor=AXIS_COL, showline=True, linecolor=AXIS_COL, linewidth=1,
                          showgrid=False, zeroline=False, automargin=False, ticklabelstandoff=11,
                          tickfont=dict(size=22, color=LEFT_COL, family=FONT),
                          title=dict(text=left_titles[i % 4], font=dict(size=24, color=LEFT_COL, family=FONT), standoff=2))
    layout[yrname] = dict(overlaying=yl, side="right", anchor=xr, range=[-right_lim[i], right_lim[i]],
                          tickvals=right_ticks[i], ticks="inside", ticklen=5, tickcolor=AXIS_COL, showline=True,
                          linecolor=AXIS_COL, linewidth=1, showgrid=False, zeroline=False, automargin=False,
                          ticklabelstandoff=-4, tickfont=dict(size=22, color="#111", family=FONT),
                          title=dict(text=right_titles[i % 4], font=dict(size=24, color="#111", family=FONT), standoff=3))
    lx, ly, fs = legend_pos[i]
    item_h = max(fs * 1.3, 16) + 3
    layout[lg] = dict(x=(lx - 15) / W, y=1 - (ly - 5 - item_h / 2) / H, xanchor="left", yanchor="top",
                      bgcolor="rgba(0,0,0,0)", borderwidth=0, itemwidth=30, tracegroupgap=0,
                      traceorder="normal", font=dict(size=fs, family=FONT, color="#111"))

for c in range(4):
    x0, x1, _, _ = boxes[c]
    layout["annotations"].append(dict(text=col_titles[c], xref="paper", yref="paper", x=(x0 + x1) / 2 / W,
                                      y=1 - 17 / H, xanchor="center", yanchor="middle", showarrow=False,
                                      font=dict(size=30, color="black", family=FONT)))
for r, yc in enumerate([230, 577]):
    layout["annotations"].append(dict(text=row_labels[r], xref="paper", yref="paper", x=21 / W, y=1 - yc / H,
                                      xanchor="center", yanchor="middle", showarrow=False,
                                      font=dict(size=28, color="black", family=FONT)))

fig.update_layout(**layout)
fig.write_html("out.html")
